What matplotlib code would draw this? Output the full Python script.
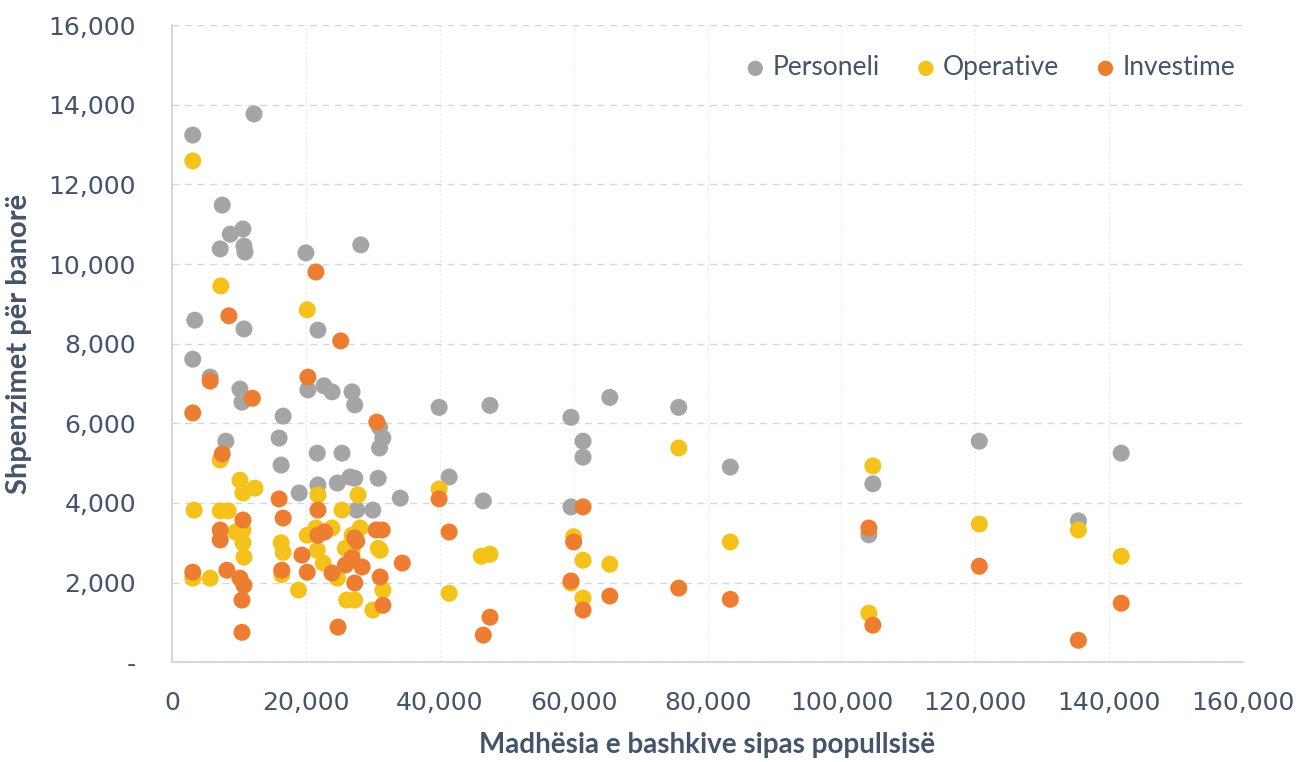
import matplotlib
matplotlib.use("Agg")
import matplotlib.pyplot as plt
from matplotlib.ticker import FuncFormatter, MultipleLocator

# population of municipality (x) vs spending per inhabitant (y), one list pair per series
pers_x = [3100, 12250, 3400, 3100, 5700, 7500, 8700, 7200, 10600, 10750, 10900, 10750,
          10150, 10450, 8050, 16600, 16000, 16300, 19000, 20000, 21800, 20300, 21700,
          22700, 23900, 26900, 27300, 28200, 21800, 25400, 24700, 26600, 27300, 30800,
          31000, 31500, 31000, 34100, 30000, 27600,
          39900, 41400, 46500, 47500, 59600, 61400, 61400, 59600, 65400, 75700, 83400,
          104700, 104100, 120600, 135400, 141800]
pers_y = [13240, 13770, 8590, 7610, 7160, 11480, 10750, 10380, 10880, 10450, 10300, 8370,
          6860, 6530, 5550, 6180, 5630, 4950, 4250, 10280, 8340, 6840, 5250,
          6940, 6790, 6790, 6460, 10480, 4450, 5250, 4500, 4650, 4620, 4620,
          5900, 5630, 5380, 4120, 3820, 3820,
          6400, 4650, 4050, 6450, 6150, 5550, 5150, 3900, 6650, 6400, 4900,
          4480, 3200, 5550, 3550, 5250]

oper_x = [3100, 7300, 20200, 7200, 3300, 10150, 12400, 10600, 7200, 8400, 10600, 9500,
          10600, 16300, 10750, 5700, 3100, 16600, 16400, 18900, 21800, 27800, 25400,
          20200, 21500, 23900, 26900, 28100, 30800, 25900, 21700, 22600, 26900, 31100,
          24700, 26100, 27300, 31500, 30000,
          39900, 41400, 46200, 47500, 60000, 61400, 59600, 61400, 65400, 75700, 83400,
          104700, 104100, 120600, 135400, 141800]
oper_y = [12590, 9450, 8850, 5080, 3820, 4570, 4370, 4250, 3800, 3800, 3320, 3270,
          3000, 3000, 2640, 2110, 2110, 2760, 2200, 1810, 4200, 4200, 3820,
          3190, 3370, 3370, 3190, 3370, 2860, 2860, 2810, 2490, 2810, 2810,
          2110, 1560, 1560, 1810, 1310,
          4350, 1730, 2660, 2710, 3150, 2560, 1990, 1610, 2460, 5380, 3020,
          4930, 1230, 3470, 3320, 2660]

inv_x = [3100, 5700, 8500, 21500, 20300, 25200, 12000, 7500, 30600, 16000, 16600, 10600,
         7200, 7200, 3100, 8200, 10150, 10750, 10450, 10450, 16400, 21800, 21800, 22800,
         27300, 30500, 31400, 19400, 20200, 23900, 25900, 26900, 27300, 28400, 31100,
         31500, 24800, 27600, 34400,
         39900, 41400, 46500, 47500, 61400, 60000, 59600, 61400, 65400, 75700, 83400,
         104100, 104700, 120600, 135400, 141800]
inv_y = [6260, 7060, 8700, 9800, 7160, 8070, 6630, 5230, 6030, 4100, 3620, 3570,
         3320, 3070, 2260, 2310, 2110, 1930, 1560, 750, 2310, 3820, 3190, 3270,
         3120, 3320, 3320, 2690, 2260, 2240, 2440, 2620, 1990, 2390, 2140,
         1430, 880, 3040, 2490,
         4100, 3270, 680, 1130, 3900, 3020, 2040, 1310, 1660, 1860, 1580,
         3370, 930, 2410, 550, 1480]

series = [
    ("Personeli", pers_x, pers_y, "#a5a5a5"),
    ("Operative", oper_x, oper_y, "#f5c21b"),
    ("Investime", inv_x, inv_y, "#ed7d31"),
]

TXT = "#44546a"
LBL_FONT = ["Lato", "DejaVu Sans"]

fig = plt.figure(figsize=(13.03, 7.62), dpi=100)
ax = fig.add_axes([0.132, 0.131, 0.822, 0.836])

for label, xs, ys, col in series:
    ax.scatter(xs, ys, s=150, color=col, edgecolors="none", label=label, zorder=3)

ax.set_xlim(0, 160000)
ax.set_ylim(0, 16000)
ax.xaxis.set_major_locator(MultipleLocator(20000))
ax.yaxis.set_major_locator(MultipleLocator(2000))
ax.xaxis.set_major_formatter(FuncFormatter(lambda v, p: f"{v:,.0f}"))
ax.yaxis.set_major_formatter(FuncFormatter(lambda v, p: "-" if v == 0 else f"{v:,.0f}"))
ax.tick_params(axis="both", length=0, labelsize=18, labelcolor=TXT)
ax.tick_params(axis="y", pad=26)
ax.tick_params(axis="x", pad=21)

ax.grid(axis="y", color="#d3d8df", linestyle=(0, (5, 4)), linewidth=1.0, zorder=0)
ax.grid(axis="x", color="#e8ecf1", linestyle=(0, (2, 2)), linewidth=0.8, zorder=0)
for s in ("top", "right"):
    ax.spines[s].set_visible(False)
for s in ("left", "bottom"):
    ax.spines[s].set_color("#c9d2de")
    ax.spines[s].set_linewidth(1.2)

ax.set_xlabel("Madhësia e bashkive sipas popullsisë", fontsize=20, fontweight="bold",
              color=TXT, family=LBL_FONT, labelpad=12)
ax.set_ylabel("Shpenzimet për banorë", fontsize=21, fontweight="bold",
              color=TXT, family=LBL_FONT, labelpad=12)

leg = ax.legend(loc="upper right", bbox_to_anchor=(1.015, 0.99), ncol=3, frameon=False,
                markerscale=0.9, handletextpad=-0.35, columnspacing=0.75,
                prop={"family": LBL_FONT, "size": 19})
for t in leg.get_texts():
    t.set_color(TXT)

fig.savefig("out.png", dpi=100)
